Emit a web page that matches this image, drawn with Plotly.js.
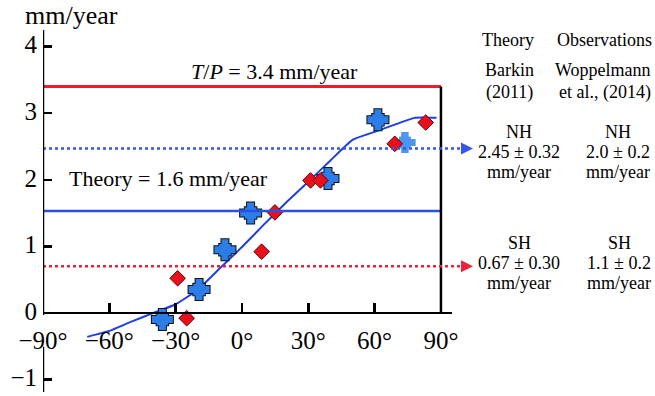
<!DOCTYPE html>
<html>
<head>
<meta charset="utf-8">
<script src="https://cdn.plot.ly/plotly-3.0.1.min.js"></script>
<style>html,body{margin:0;padding:0;background:#fff;}#chart{width:655px;height:396px;}</style>
</head>
<body>
<div id="chart"></div>
<script>
// ---- data ----
const curveLat  = [-70, -60, -50, -40, -30, -20, -10, 0, 10, 20, 30, 40, 50, 60, 70, 78, 88];
const curveRate = [-0.36, -0.27, -0.13, 0.0, 0.13, 0.35, 0.67, 0.99, 1.33, 1.66, 1.97, 2.29, 2.6, 2.72, 2.84, 2.93, 2.93];

const blueLat  = [-36, -19.4, -7.7, 3.9, 38.9, 61.5, 73.7];
const blueRate = [-0.1, 0.35, 0.95, 1.5, 2.02, 2.9, 2.56];

const redLat  = [-29.1, -25, 8.9, 14.9, 31, 35.5, 69.1, 83.1];
const redRate = [0.52, -0.08, 0.92, 1.51, 1.99, 1.99, 2.54, 2.86];

const tpLevel = 3.4;          // T/P line
const theoryLevel = 1.53;     // Theory = 1.6 line
const nhLevel = 2.47;         // NH dotted arrow
const shLevel = 0.70;         // SH dotted arrow

const xTickVals = [-90, -60, -30, 0, 30, 60, 90];
const xTickText = ['−90°', '−60°', '−30°', '0°', '30°', '60°', '90°'];
const yTickVals = [-1, 0, 1, 2, 3, 4];

// ---- styling ----
const FONT = 'Liberation Serif, Times New Roman, serif';
const RED = '#ee1c2e';
const BLUE_LINE = '#2a4fe6';
const BLUE_FILL = '#2b7ee8';
const BLUE_FADE = '#4d95ee';
const yMin = -1.188, yMax = 4.25;
const xMin = -90, xMax = 95;

// per-point styling for the blue markers (last one is faded, no outline)
const blueColors = blueLat.map((_, i) => i === blueLat.length - 1 ? BLUE_FADE : BLUE_FILL);
const blueOutline = blueLat.map((_, i) => i === blueLat.length - 1 ? 0 : 2);

const CROSS_SIZE = 17.5, SQ_SIZE = 11.5;

const traces = [
  {x: curveLat, y: curveRate, mode: 'lines', line: {color: '#1f3fe0', width: 2, shape: 'spline', smoothing: 0.45}, hoverinfo: 'skip'},
  // outlines
  {x: blueLat, y: blueRate, mode: 'markers', marker: {symbol: 'cross', size: CROSS_SIZE, color: blueColors, line: {color: '#111', width: blueOutline}}},
  {x: blueLat, y: blueRate, mode: 'markers', marker: {symbol: 'square', size: SQ_SIZE, color: blueColors, line: {color: '#111', width: blueOutline}}},
  // fills
  {x: blueLat, y: blueRate, mode: 'markers', marker: {symbol: 'cross', size: CROSS_SIZE, color: blueColors, line: {width: 0}}},
  {x: blueLat, y: blueRate, mode: 'markers', marker: {symbol: 'square', size: SQ_SIZE, color: blueColors, line: {width: 0}}},
  {x: redLat, y: redRate, mode: 'markers', marker: {symbol: 'diamond', size: 12, color: '#e8101c', line: {color: '#6a0000', width: 1}}}
];

const toPaperX = px => (px - 43) / 409;

const shapes = [
  {type: 'line', xref: 'x', yref: 'y', x0: -90, x1: 90, y0: tpLevel, y1: tpLevel, line: {color: RED, width: 3}},
  {type: 'line', xref: 'x', yref: 'y', x0: -90, x1: 90, y0: theoryLevel, y1: theoryLevel, line: {color: BLUE_LINE, width: 2.5}},
  {type: 'line', xref: 'x', yref: 'y', x0: 90, x1: 90, y0: 0, y1: tpLevel, line: {color: '#000', width: 2.5}},
  {type: 'line', xref: 'paper', yref: 'y', x0: 0, x1: toPaperX(465), y0: nhLevel, y1: nhLevel, line: {color: '#3555f0', width: 2.5, dash: 'dot'}},
  {type: 'line', xref: 'paper', yref: 'y', x0: 0, x1: toPaperX(465), y0: shLevel, y1: shLevel, line: {color: '#f0203a', width: 2.5, dash: 'dot'}},
  // y axis line, broken behind the −90° label
  {type: 'line', xref: 'x', yref: 'y', x0: -90, x1: -90, y0: -0.03, y1: yMax, line: {color: '#000', width: 2.5}},
  {type: 'line', xref: 'x', yref: 'y', x0: -90, x1: -90, y0: -0.51, y1: yMin, line: {color: '#000', width: 2.5}}
];

function txt(x, y, text, size, xref, yref) {
  return {x: x, y: y, xref: xref || 'paper', yref: yref || 'paper', text: text, showarrow: false,
          xanchor: 'center', yanchor: 'middle', font: {family: FONT, size: size, color: '#000'}};
}
const pY = py => 1 - (py - 30) / 362;

const annotations = [
  txt(toPaperX(71), pY(16), 'mm/year', 26),
  txt(14.5, 3.62, '<i>T</i>/<i>P</i> = 3.4 mm/year', 22, 'x', 'y'),
  txt(-33.4, 2.015, 'Theory = 1.6 mm/year', 22, 'x', 'y'),
  txt(toPaperX(508), pY(40), 'Theory', 18),
  txt(toPaperX(604), pY(40), 'Observations', 18),
  txt(toPaperX(509), pY(70), 'Barkin', 18),
  txt(toPaperX(509), pY(92), '(2011)', 18),
  txt(toPaperX(603), pY(70), 'Woppelmann', 18),
  txt(toPaperX(605), pY(92), 'et al., (2014)', 18),
  txt(toPaperX(519), pY(132), 'NH', 18),
  txt(toPaperX(519), pY(152), '2.45 ± 0.32', 18),
  txt(toPaperX(519), pY(172), 'mm/year', 18),
  txt(toPaperX(618), pY(132), 'NH', 18),
  txt(toPaperX(618), pY(152), '2.0 ± 0.2', 18),
  txt(toPaperX(618), pY(172), 'mm/year', 18),
  txt(toPaperX(519), pY(243), 'SH', 18),
  txt(toPaperX(519), pY(263), '0.67 ± 0.30', 18),
  txt(toPaperX(519), pY(283), 'mm/year', 18),
  txt(toPaperX(619), pY(243), 'SH', 18),
  txt(toPaperX(619), pY(263), '1.1 ± 0.2', 18),
  txt(toPaperX(619), pY(283), 'mm/year', 18),
  // arrowheads at the end of the dotted lines
  {x: toPaperX(473), y: nhLevel, xref: 'paper', yref: 'y', text: '', showarrow: true, axref: 'pixel', ayref: 'pixel',
   ax: -8, ay: 0, arrowhead: 2, arrowsize: 1.2, arrowwidth: 2, arrowcolor: '#3555f0'},
  {x: toPaperX(473), y: shLevel, xref: 'paper', yref: 'y', text: '', showarrow: true, axref: 'pixel', ayref: 'pixel',
   ax: -8, ay: 0, arrowhead: 2, arrowsize: 1.2, arrowwidth: 2, arrowcolor: '#f0203a'}
];

const layout = {
  width: 655, height: 396,
  margin: {l: 43, r: 203, t: 30, b: 4},
  paper_bgcolor: '#fff', plot_bgcolor: 'rgba(0,0,0,0)',
  showlegend: false,
  font: {family: FONT, color: '#000'},
  xaxis: {
    range: [xMin, xMax], showgrid: false, zeroline: false,
    anchor: 'free', position: (0 - yMin) / (yMax - yMin),
    showline: true, linecolor: '#000', linewidth: 2.5,
    ticks: 'inside', ticklen: 9, tickwidth: 2.5, tickcolor: '#000',
    tickvals: xTickVals, ticktext: xTickText,
    tickfont: {family: FONT, size: 25, color: '#000'}, ticklabelstandoff: 5
  },
  yaxis: {
    range: [yMin, yMax], showgrid: false, zeroline: false, showline: false,
    ticks: 'inside', ticklen: 9, tickwidth: 2.5, tickcolor: '#000',
    tickvals: yTickVals, ticklabelshift: -2,
    tickfont: {family: FONT, size: 25, color: '#000'}, ticklabelstandoff: 5
  },
  shapes: shapes,
  annotations: annotations
};

Plotly.newPlot('chart', traces, layout, {displayModeBar: false, staticPlot: true});
</script>
</body>
</html>
